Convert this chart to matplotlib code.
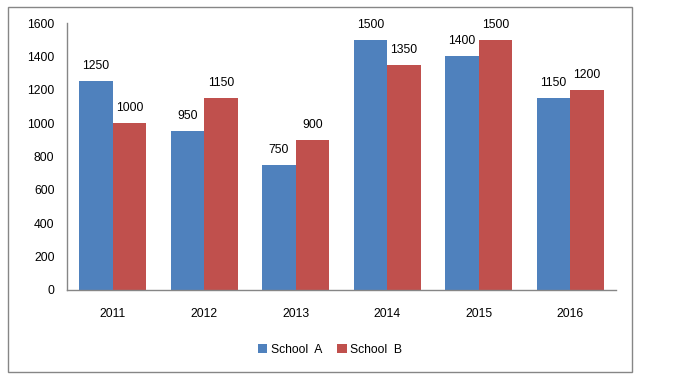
import matplotlib
matplotlib.use("Agg")
import matplotlib.pyplot as plt
import numpy as np
from matplotlib.patches import Rectangle

years = ["2011", "2012", "2013", "2014", "2015", "2016"]
school_a = [1250, 950, 750, 1500, 1400, 1150]
school_b = [1000, 1150, 900, 1350, 1500, 1200]
yticks = [0, 200, 400, 600, 800, 1000, 1200, 1400, 1600]

plt.rcParams['font.family'] = ['Liberation Sans', 'DejaVu Sans']
fs = 8.7

fig = plt.figure(figsize=(6.74, 3.84), dpi=100)
fig.patches.append(Rectangle((8/674, 1-372/384), 624/674, 365/384, transform=fig.transFigure,
                             fill=False, edgecolor='#868686', linewidth=1.0))
ax = fig.add_axes([67/674, 1-290/384, 549/674, 267/384])

x = np.arange(len(years))
w = 0.367
ba = ax.bar(x - w/2, school_a, w, color='#4F81BD', label='School  A')
bb = ax.bar(x + w/2, school_b, w, color='#C0504D', label='School  B')
for bars in (ba, bb):
    for r in bars:
        ax.annotate(f"{int(r.get_height())}", (r.get_x() + r.get_width()/2, r.get_height()),
                    xytext=(0, 6.5), textcoords='offset points', ha='center', va='bottom', fontsize=fs)

ax.set_xlim(-0.5, len(years) - 0.5)
ax.set_ylim(0, 1600)
ax.set_yticks(yticks)
ax.set_xticks(x)
ax.set_xticklabels(years)
ax.tick_params(axis='both', length=0, labelsize=fs)
ax.tick_params(axis='x', pad=13)
ax.tick_params(axis='y', pad=9)
for s in ('top', 'right'):
    ax.spines[s].set_visible(False)
for s in ('left', 'bottom'):
    ax.spines[s].set_color('#868686')
    ax.spines[s].set_linewidth(1.0)

fig.legend(handles=[ba, bb], loc='center', bbox_to_anchor=(330/674, 1-350/384), ncol=2,
           frameon=False, fontsize=fs, handlelength=0.8, handleheight=0.8,
           handletextpad=0.3, columnspacing=1.2)

fig.savefig("out.png", dpi=100)
